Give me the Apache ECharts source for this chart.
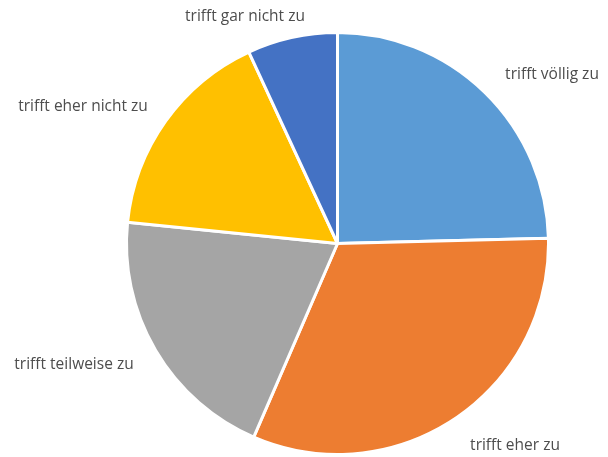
<!DOCTYPE html>
<html>
<head>
<meta charset="utf-8">
<script src="https://cdn.jsdelivr.net/npm/echarts@6/dist/echarts.min.js"></script>
<style>
html,body{margin:0;padding:0;background:#fff;}
#chart{width:608px;height:457px;}
</style>
</head>
<body>
<div id="chart"></div>
<script>
const categories = ["trifft völlig zu", "trifft eher zu", "trifft teilweise zu", "trifft eher nicht zu", "trifft gar nicht zu"];
const values = [24.6, 31.9, 20.1, 16.5, 6.9];
const colors = ["#5B9BD5", "#ED7D31", "#A5A5A5", "#FFC000", "#4472C4"];
const labelCenters = [[552, 75], [515, 446], [74, 365], [83, 107], [245, 17]];

const chart = echarts.init(document.getElementById('chart'), null, {renderer: 'canvas'});
chart.setOption({
  animation: false,
  backgroundColor: '#ffffff',
  series: [{
    type: 'pie',
    center: [337.5, 243.5],
    radius: [0, 211],
    startAngle: 90,
    clockwise: true,
    data: categories.map((c, i) => ({name: c, value: values[i], itemStyle: {color: colors[i]}})),
    itemStyle: {borderColor: '#ffffff', borderWidth: 3},
    label: {
      show: true,
      position: 'outside',
      formatter: '{b}',
      color: '#4d4d4d',
      fontFamily: 'Open Sans',
      fontSize: 15.5,
      overflow: 'none'
    },
    labelLine: {show: false},
    labelLayout: function (p) {
      const c = labelCenters[p.dataIndex];
      return {x: c[0], y: c[1], align: 'center', verticalAlign: 'middle'};
    }
  }]
});
</script>
</body>
</html>
